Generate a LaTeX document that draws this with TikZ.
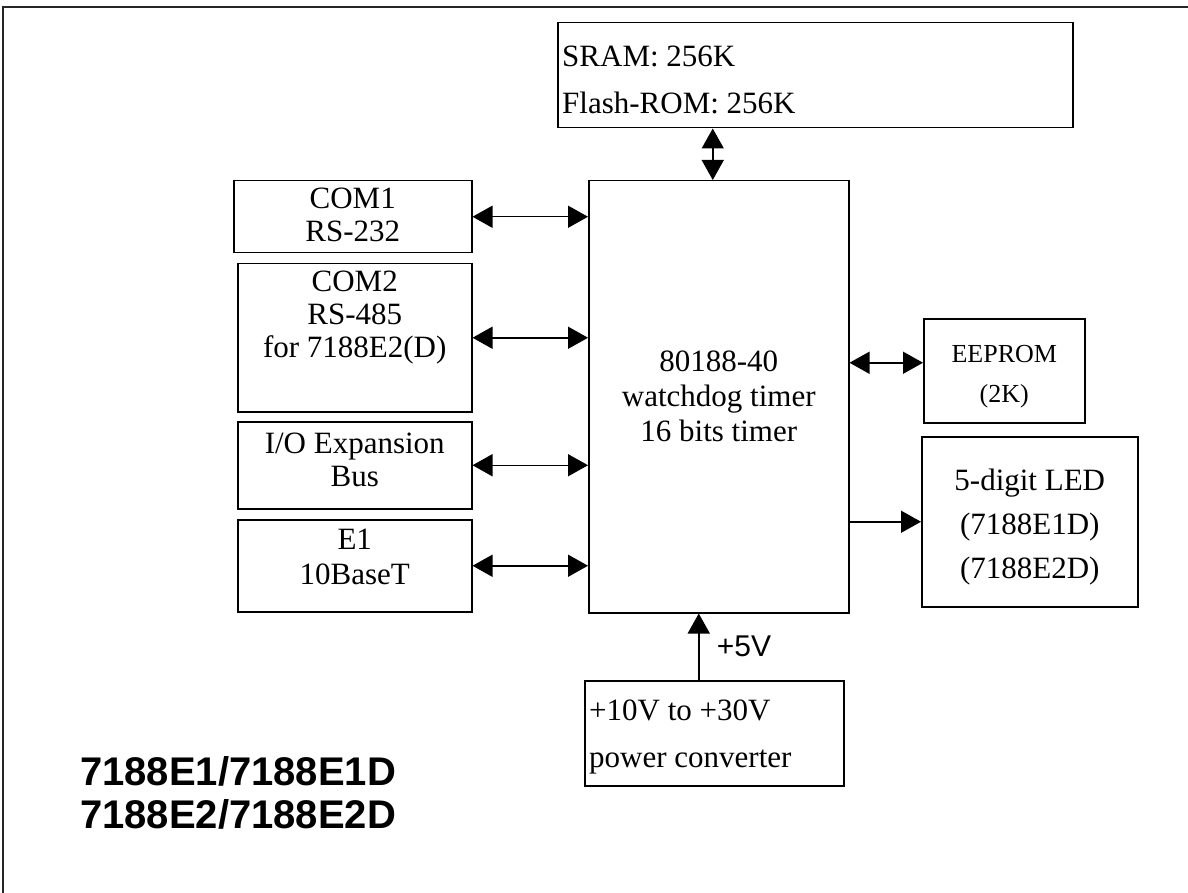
\documentclass[tikz,border=0pt]{standalone}
\usepackage{fontspec}
\setmainfont{Liberation Serif}
\newfontfamily\labelsans{Liberation Sans}
\usetikzlibrary{arrows.meta,positioning}

\begin{document}
\begin{tikzpicture}[x=1pt, y=-1pt,
    box/.style={draw, line width=1.5pt, inner sep=0pt, anchor=north west},
    boxtext/.style={align=center, inner sep=0pt, font=\fontsize{31}{33}\selectfont},
    lefttext/.style={boxtext, align=left, anchor=west, xshift=5pt, font=\fontsize{31}{47}\selectfont},
    arrow/.style={-{Triangle[length=20pt, width=22pt]}, line width=1.5pt},
    dblarrow/.style={{Triangle[length=20pt, width=22pt]}-{Triangle[length=20pt, width=22pt]}, line width=1.5pt}
]
    \useasboundingbox (0,0) rectangle (1188,893);
    % outer frame, open to the right and bottom
    \draw[line width=2pt, black!85] (3,893) -- (3,7) -- (1188,7);

    \node[box, minimum width=515pt, minimum height=105pt,
        label={[lefttext, yshift=-5pt]west:{SRAM: 256K\\Flash-ROM: 256K}}] (mem) at (557,22) {};
    \node[box, minimum width=260pt, minimum height=432pt,
        label={[boxtext, font=\fontsize{31}{35}\selectfont]center:{80188-40\\watchdog timer\\16 bits timer}}] (cpu) at (588,180) {};

    \node[box, minimum width=238pt, minimum height=72pt,
        label={[boxtext, yshift=2pt]center:{COM1\\RS-232}}] (com1) at (233,180) {};
    \node[box, minimum width=234pt, minimum height=148pt,
        label={[boxtext, yshift=20pt]center:{COM2\\RS-485\\for 7188E2(D)}}] (com2) at (237,263) {};
    \node[box, minimum width=234pt, minimum height=87pt,
        label={[boxtext, yshift=5pt]center:{I/O Expansion\\Bus}}] (iobus) at (237,421) {};
    \node[box, minimum width=234pt, minimum height=92pt,
        label={[boxtext, yshift=9pt, font=\fontsize{31}{35}\selectfont]center:{E1\\10BaseT}}] (eth) at (237,519) {};

    \node[box, minimum width=161pt, minimum height=104pt,
        label={[boxtext, yshift=-6pt, font=\fontsize{26}{40}\selectfont]center:{EEPROM\\(2K)}}] (eeprom) at (923,318) {};
    \node[box, minimum width=216pt, minimum height=170pt,
        label={[boxtext, yshift=-5pt, font=\fontsize{31}{44}\selectfont]center:{5-digit LED\\(7188E1D)\\(7188E2D)}}] (led) at (921,436) {};
    \node[box, minimum width=259pt, minimum height=105pt,
        label={[lefttext, yshift=-4pt]west:{+10V to +30V\\power converter}}] (pwr) at (584,680) {};

    \node[anchor=west, align=left, inner sep=0pt, font=\labelsans\bfseries\fontsize{40}{43}\selectfont] (title) at (80,793) {7188E1/7188E1D\\7188E2/7188E2D};

    % buses
    \draw[dblarrow] ([xshift=-6pt]cpu.north) -- ([xshift=-6pt]cpu.north |- mem.south);
    \draw[dblarrow] (com1.east) -- (com1.east -| cpu.west);
    \draw[dblarrow] (com2.east) -- (com2.east -| cpu.west);
    \draw[dblarrow] (iobus.east) -- (iobus.east -| cpu.west);
    \draw[dblarrow] (eth.east) -- (eth.east -| cpu.west);
    \draw[dblarrow] ([yshift=8pt]eeprom.west -| cpu.east) -- ([yshift=8pt]eeprom.west);
    \draw[arrow] (cpu.east |- led.west) -- (led.west);
    \draw[arrow] ([xshift=-20pt]cpu.south |- pwr.north) -- node[right=14pt, font=\labelsans\fontsize{30}{36}\selectfont] (volt) {+5V} ([xshift=-20pt]cpu.south);
\end{tikzpicture}
\end{document}
